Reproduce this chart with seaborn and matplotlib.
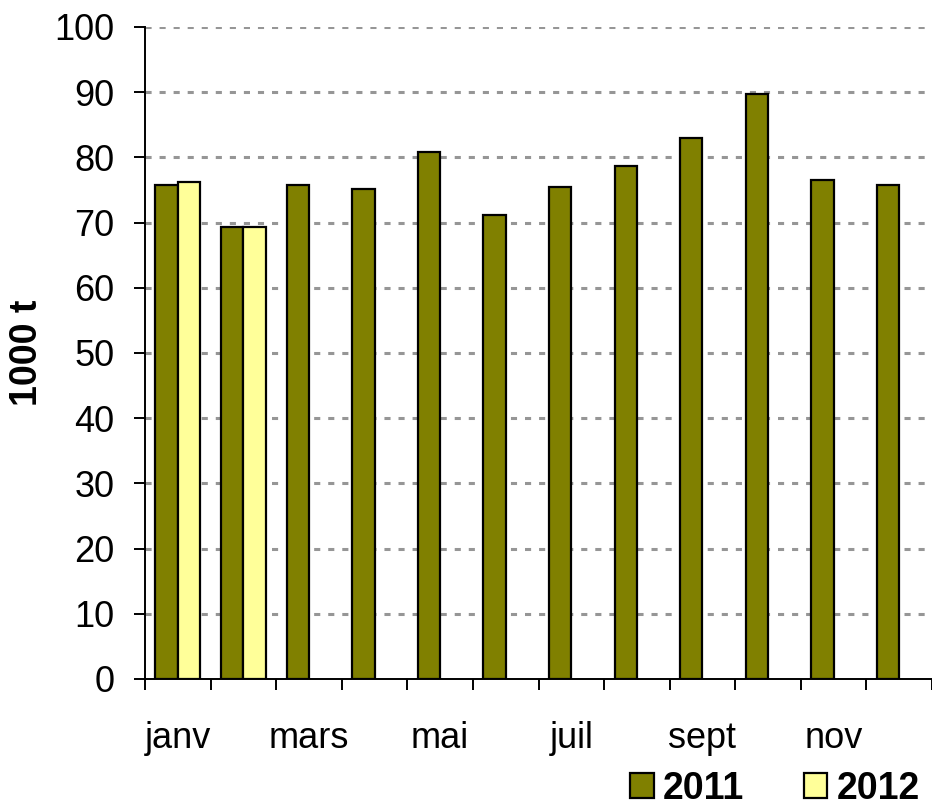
import matplotlib
matplotlib.use("Agg")
import matplotlib.pyplot as plt
import numpy as np
import pandas as pd
import seaborn as sns
from matplotlib.patches import Patch

# données mensuelles (1000 t)
mois = ["janv", "févr", "mars", "avr", "mai", "juin",
        "juil", "août", "sept", "oct", "nov", "déc"]
v2011 = [75.8, 69.4, 75.8, 75.1, 80.9, 71.2, 75.5, 78.7, 82.9, 89.8, 76.6, 75.8]
v2012 = [76.2, 69.4, np.nan, np.nan, np.nan, np.nan,
         np.nan, np.nan, np.nan, np.nan, np.nan, np.nan]
annees = ["2011", "2012"]
couleurs = ["#808000", "#FFFF99"]
yticks = list(range(0, 101, 10))

df = pd.DataFrame({
    "mois": mois * 2,
    "annee": ["2011"] * 12 + ["2012"] * 12,
    "val": v2011 + v2012,
})

sns.set_style("white")
plt.rcParams["font.family"] = ["Liberation Sans", "DejaVu Sans"]
plt.rcParams["text.color"] = "black"
plt.rcParams["xtick.color"] = "black"
plt.rcParams["ytick.color"] = "black"
plt.rcParams["axes.labelcolor"] = "black"

fig = plt.figure(figsize=(9.32, 8.1), dpi=100)
ax = fig.add_axes([145 / 932, 1 - 679 / 810, (932 - 145) / 932, (679 - 27) / 810])

sns.barplot(data=df, x="mois", y="val", hue="annee", order=mois, hue_order=annees,
            palette=couleurs, width=0.68, edgecolor="black", linewidth=1.6,
            saturation=1, legend=False, ax=ax, zorder=3)

ax.set_ylim(0, 100)
ax.set_xlim(-0.5, 11.5)
ax.set_yticks(yticks)
ax.set_yticklabels([str(t) for t in yticks], fontsize=26)
for t in yticks[1:]:
    ax.axhline(t, color="#969696", lw=2.2, dashes=(2.0, 2.6), zorder=1)

# ticks aux limites des catégories, étiquettes un mois sur deux
ax.set_xticks(np.arange(0, 12, 2))
ax.set_xticklabels(mois[::2], fontsize=26)
ax.set_xticks(np.arange(-0.5, 12, 1), minor=True)
ax.tick_params(axis="x", which="major", length=0, pad=30, bottom=True)
ax.tick_params(axis="x", which="minor", length=8, width=1.4, direction="out",
               color="black", bottom=True)
ax.tick_params(axis="y", length=8, width=1.4, direction="out", color="black", pad=14, left=True)

ax.set_xlabel("")
ax.set_ylabel("1000 t", fontsize=27, fontweight="bold")
ax.yaxis.set_label_coords(-0.127, 0.50)

for s in ["top", "right"]:
    ax.spines[s].set_visible(False)
for s in ["left", "bottom"]:
    ax.spines[s].set_color("black")
    ax.spines[s].set_linewidth(1.4)

handles = [Patch(facecolor=c, edgecolor="black", linewidth=1.6) for c in couleurs]
fig.legend(handles, annees, loc="lower right", bbox_to_anchor=(920 / 932, 0.004),
           ncol=2, frameon=False, prop={"size": 27, "weight": "bold"},
           borderpad=0, borderaxespad=0,
           handlelength=0.62, handleheight=0.62, handletextpad=0.25, columnspacing=1.6)

fig.savefig("out.png", dpi=100)
